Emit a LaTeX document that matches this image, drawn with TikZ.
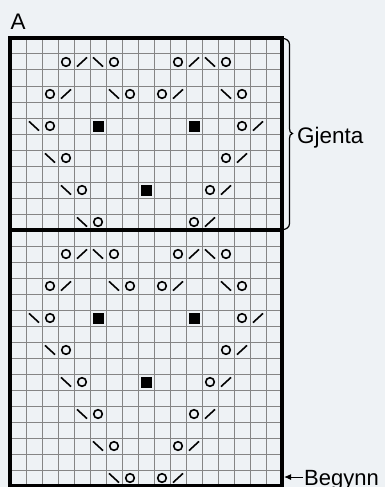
\documentclass[tikz,border=0pt]{standalone}
\usepackage{fontspec}
\setmainfont{Liberation Sans}
\usetikzlibrary{arrows.meta}
\definecolor{bgc}{HTML}{EEF2F5}
\definecolor{gridc}{HTML}{858585}
\newcommand\chartO[2]{\draw[sym] ({18+16*(#1)},{46+16*(#2)}) circle (4.3);}
\newcommand\chartR[2]{\draw[sym] ({18+16*(#1)-5},{46+16*(#2)+4.6}) -- ++(10,-9.2);}
\newcommand\chartL[2]{\draw[sym] ({18+16*(#1)-5},{46+16*(#2)-4.6}) -- ++(10,9.2);}
\newcommand\chartSq[2]{\fill ({18+16*(#1)-5.5},{46+16*(#2)-5.5}) rectangle ++(11,11);}
\begin{document}
\begin{tikzpicture}[x=1pt,y=-1pt,
  thingrid/.style={draw=gridc,line width=1pt},
  heavy/.style={draw=black,line width=3.2pt},
  sym/.style={draw=black,line width=1.6pt},
  lab/.style={font=\fontsize{22.5}{25}\selectfont,inner sep=0pt,anchor=base west,text=black}]
\fill[bgc] (0,0) rectangle (385,487);
\useasboundingbox (0,0) rectangle (385,487);
% thin grid
\foreach \i in {1,...,16} \draw[thingrid] ({10+16*\i},38) -- ({10+16*\i},486);
\foreach \j in {1,...,27} \draw[thingrid] (10,{38+16*\j}) -- (282,{38+16*\j});
% heavy frame
\draw[heavy] (10,38) rectangle (282,486);
\draw[heavy] (10,230) -- (282,230);
% symbols, both sections
\foreach \off in {0,12}{
  \foreach \c/\r in {3/1,6/1,10/1,13/1,2/3,7/3,9/3,14/3,2/5,14/5,3/7,13/7,4/9,12/9,5/11,11/11}{\chartO{\c}{\r+\off}}
  \foreach \c/\r in {4/1,11/1,3/3,10/3,15/5,14/7,13/9,12/11}{\chartR{\c}{\r+\off}}
  \foreach \c/\r in {5/1,12/1,6/3,13/3,1/5,2/7,3/9,4/11}{\chartL{\c}{\r+\off}}
  \foreach \c/\r in {5/5,11/5,8/9}{\chartSq{\c}{\r+\off}}
}
\foreach \c/\r in {6/25,10/25,7/27,9/27}{\chartO{\c}{\r}}
\foreach \c/\r in {11/25,10/27}{\chartR{\c}{\r}}
\foreach \c/\r in {5/25,6/27}{\chartL{\c}{\r}}
% labels
\node[lab] (labA) at (10.5,30) {A};
\node[lab] (gjenta) at (297,143) {Gjenta};
\node[lab,font=\fontsize{22}{24}\selectfont] (begynn) at (304,485) {Begynn};
% brace
\coordinate (btop) at (283,38.5);
\coordinate (bbot) at (283,229.5);
\draw[line width=1.2pt] (btop) to[out=0,in=90] (289.5,44.5) -- (289.5,128.5)
  to[out=-90,in=180] (292.5,133.5) to[out=180,in=90] (289.5,138.5) -- (289.5,223.5)
  to[out=-90,in=0] (bbot);
% start arrow
\coordinate (astart) at (303,477);
\coordinate (atip) at (284,477);
\draw[line width=1pt,-{Latex[length=7pt,width=6pt]}] (astart) -- (atip);
\end{tikzpicture}
\end{document}
